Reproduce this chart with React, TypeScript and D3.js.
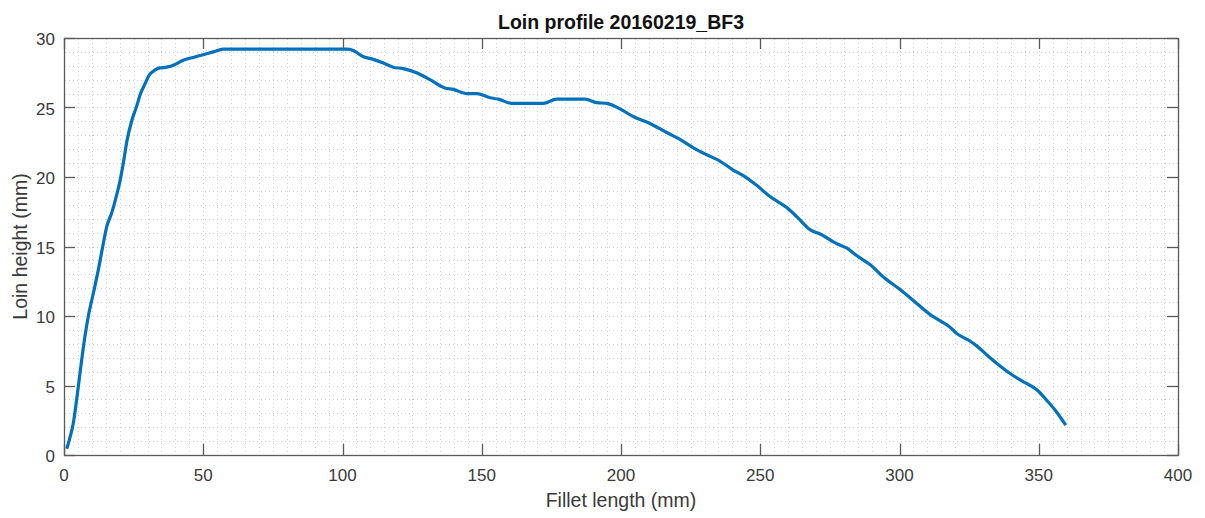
import React, { useEffect, useRef } from 'react';
import * as d3 from 'd3';

// Loin profile samples (mm)
const filletLength = [
  1.0, 2.2, 3.35, 4.55, 5.75, 7.5, 8.7, 10.5, 12.3, 14.1,
  15.3, 17.1, 18.9, 20.1, 21.3, 22.6, 24.4, 26.1, 27.3, 29.1,
  30.5, 32.7, 34.5, 36.9, 39.9, 42.8, 46.4, 50.0, 53.6, 57.2,
  101.5, 103.9, 107.5, 110.5, 114.7, 118.2, 121.8, 126.6, 131.4, 136.8,
  139.8, 144.6, 148.2, 153.0, 156.0, 160.8, 172.1, 176.9, 187.1, 191.3,
  194.9, 199.6, 204.4, 210.4, 216.4, 221.2, 226.0, 230.8, 235.5, 240.3,
  243.9, 248.7, 253.5, 259.5, 263.1, 268.0, 271.5, 277.5, 281.0, 284.6,
  289.4, 294.2, 300.2, 306.2, 311.0, 314.6, 318.1, 320.5, 325.3, 327.7,
  332.5, 336.1, 340.9, 345.6, 349.3, 352.8, 356.4, 359.7,
];
const loinHeight = [
  0.45, 1.3, 2.3, 4.0, 5.9, 8.5, 9.95, 11.6, 13.3, 15.2,
  16.4, 17.4, 18.7, 19.7, 21.0, 22.6, 24.1, 25.1, 25.9, 26.7,
  27.3, 27.7, 27.85, 27.9, 28.1, 28.4, 28.6, 28.8, 29.0, 29.2,
  29.2, 29.1, 28.65, 28.5, 28.2, 27.9, 27.8, 27.5, 27.0, 26.4,
  26.3, 26.0, 26.0, 25.7, 25.6, 25.3, 25.3, 25.6, 25.6, 25.35,
  25.3, 24.9, 24.35, 23.85, 23.2, 22.7, 22.1, 21.6, 21.15, 20.5,
  20.1, 19.4, 18.6, 17.8, 17.15, 16.2, 15.9, 15.2, 14.9, 14.35,
  13.7, 12.8, 11.9, 10.9, 10.1, 9.65, 9.2, 8.75, 8.2, 7.85,
  7.0, 6.4, 5.7, 5.15, 4.7, 3.95, 3.1, 2.15,
];

const xTicks = [0, 50, 100, 150, 200, 250, 300, 350, 400];
const yTicks = [0, 5, 10, 15, 20, 25, 30];

const W = 1205;
const H = 518;
const margin = { top: 38, right: 27, bottom: 63, left: 64 };

const App: React.FC = () => {
  const svgRef = useRef<SVGSVGElement>(null);

  useEffect(() => {
    if (!svgRef.current) return;
    const el = svgRef.current;
    d3.select(el).selectAll('*').remove();

    const width = W - margin.left - margin.right;
    const height = H - margin.top - margin.bottom;
    const font = '"Liberation Sans", Arial, Helvetica, sans-serif';
    const axisColor = '#3a3a3a';
    const tickLen = 11;

    const x = d3.scaleLinear().domain([0, 400]).range([0, width]);
    const y = d3.scaleLinear().domain([0, 30]).range([height, 0]);

    const svg = d3.select(el);
    svg.append('rect').attr('width', W).attr('height', H).attr('fill', '#fff');

    const g = svg.append('g').attr('transform', `translate(${margin.left},${margin.top})`);

    // Minor + major grid (dotted, light)
    const grid = g.append('g')
      .attr('stroke', '#d2d2d2')
      .attr('stroke-dasharray', '1,3')
      .attr('stroke-width', 1);
    d3.range(5, 400, 5).forEach((v) => {
      grid.append('line')
        .attr('x1', Math.round(x(v)) + 0.5).attr('x2', Math.round(x(v)) + 0.5)
        .attr('y1', 1).attr('y2', height);
    });
    d3.range(1, 30, 1).forEach((v) => {
      grid.append('line')
        .attr('x1', 1).attr('x2', width)
        .attr('y1', Math.round(y(v)) + 0.5).attr('y2', Math.round(y(v)) + 0.5);
    });

    // Data line
    const line = d3.line<number>()
      .x((_, i) => x(filletLength[i]))
      .y((d) => y(d))
      .curve(d3.curveMonotoneX);

    g.append('path')
      .datum(loinHeight)
      .attr('d', line)
      .attr('fill', 'none')
      .attr('stroke', '#0072BD')
      .attr('stroke-width', 3.2)
      .attr('stroke-linejoin', 'round');

    // Box
    g.append('rect')
      .attr('x', 0.5).attr('y', 0.5)
      .attr('width', width).attr('height', height)
      .attr('fill', 'none')
      .attr('stroke', '#5a5a5a')
      .attr('stroke-width', 1.3);

    // Ticks (inside, all four sides)
    const ticks = g.append('g').attr('stroke', '#5a5a5a').attr('stroke-width', 1.3);
    xTicks.forEach((v) => {
      const px = Math.round(x(v)) + 0.5;
      ticks.append('line').attr('x1', px).attr('x2', px).attr('y1', height).attr('y2', height - tickLen);
      ticks.append('line').attr('x1', px).attr('x2', px).attr('y1', 0).attr('y2', tickLen);
    });
    yTicks.forEach((v) => {
      const py = Math.round(y(v)) + 0.5;
      ticks.append('line').attr('x1', 0).attr('x2', tickLen).attr('y1', py).attr('y2', py);
      ticks.append('line').attr('x1', width).attr('x2', width - tickLen).attr('y1', py).attr('y2', py);
    });

    // Tick labels
    xTicks.forEach((v) => {
      g.append('text')
        .attr('x', x(v)).attr('y', height + 26)
        .attr('text-anchor', 'middle')
        .attr('font-family', font).attr('font-size', 17)
        .attr('fill', axisColor)
        .text(v);
    });
    yTicks.forEach((v) => {
      g.append('text')
        .attr('x', -9).attr('y', y(v) + 7)
        .attr('text-anchor', 'end')
        .attr('font-family', font).attr('font-size', 17)
        .attr('fill', axisColor)
        .text(v);
    });

    // Axis labels
    g.append('text')
      .attr('x', width / 2).attr('y', height + 52)
      .attr('text-anchor', 'middle')
      .attr('font-family', font).attr('font-size', 19.5)
      .attr('fill', axisColor)
      .text('Fillet length (mm)');

    svg.append('text')
      .attr('transform', `translate(27,${margin.top + height / 2}) rotate(-90)`)
      .attr('text-anchor', 'middle')
      .attr('font-family', font).attr('font-size', 19.5)
      .attr('fill', axisColor)
      .text('Loin height (mm)');

    // Title
    svg.append('text')
      .attr('x', margin.left + width / 2).attr('y', 29)
      .attr('text-anchor', 'middle')
      .attr('font-family', font).attr('font-size', 19.5)
      .attr('font-weight', 'bold')
      .attr('fill', '#111')
      .text('Loin profile 20160219_BF3');
  }, []);

  return (
    <svg
      ref={svgRef}
      width={W}
      height={H}
      style={{ position: 'absolute', left: 0, top: 0, display: 'block' }}
    />
  );
};

export default App;
